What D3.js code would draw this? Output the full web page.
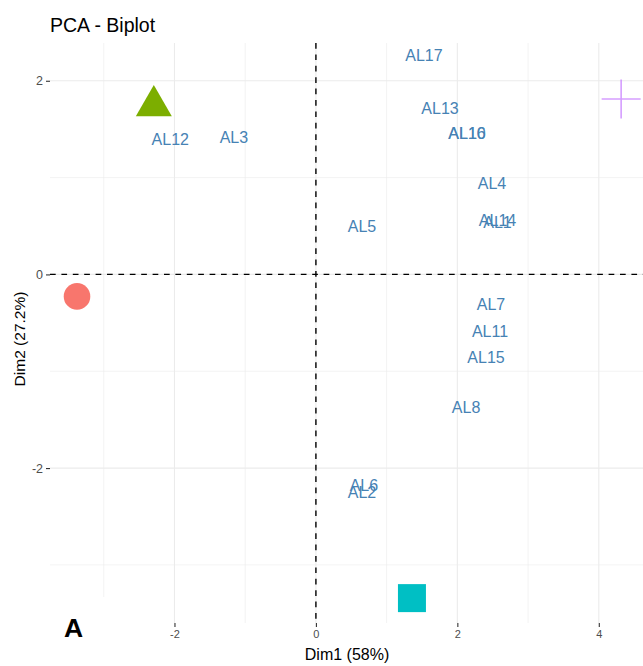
<!DOCTYPE html>
<html>
<head>
<meta charset="utf-8">
<script src="https://cdn.jsdelivr.net/npm/d3@7"></script>
<style>
  html, body { margin: 0; padding: 0; background: #fff; }
  svg { display: block; font-family: "Liberation Sans", Arial, sans-serif; }
</style>
</head>
<body>
<svg id="chart" width="643" height="666"></svg>
<script>
// Individuals (labels only)
const labelNames = ["AL17", "AL13", "AL16", "AL10", "AL4", "AL14", "AL1", "AL5",
                    "AL7", "AL11", "AL15", "AL8", "AL6", "AL2", "AL12", "AL3"];
const labelDim1 = [1.528, 1.755, 2.137, 2.137, 2.49, 2.568, 2.568, 0.651,
                   2.476, 2.462, 2.406, 2.123, 0.679, 0.651, -2.059, -1.160];
const labelDim2 = [2.267, 1.719, 1.461, 1.461, 0.944, 0.562, 0.535, 0.500,
                   -0.307, -0.586, -0.855, -1.371, -2.174, -2.246, 1.394, 1.414];

// Group mean points
const groupShapes = ["circle", "triangle", "square", "cross"];
const groupColors = ["#F8766D", "#7CAE00", "#00BFC4", "#C77CFF"];
const groupDim1 = [-3.378, -2.292, 1.358, 4.316];
const groupDim2 = [-0.227, 1.742, -3.343, 1.812];

// Axis ticks and grid
const xTicks = [-2, 0, 2, 4];
const yTicks = [-2, 0, 2];
const xMinor = [-3, -1, 1, 3];
const yMinor = [-3, -1, 1];

const xDomain = [-3.76, 4.71];
const yDomain = [-3.60, 2.39];

const panel = { left: 50, right: 649, top: 43, bottom: 623 };

const svg = d3.select("#chart");
const x = d3.scaleLinear().domain(xDomain).range([panel.left, panel.right]);
const y = d3.scaleLinear().domain(yDomain).range([panel.bottom, panel.top]);

const gridColor = "#EBEBEB";
const grid = svg.append("g");

// minor grid
grid.selectAll("line.vmin").data(xMinor).join("line")
  .attr("x1", d => x(d)).attr("x2", d => x(d))
  .attr("y1", panel.top).attr("y2", panel.bottom)
  .attr("stroke", gridColor).attr("stroke-width", 0.6);
grid.selectAll("line.hmin").data(yMinor).join("line")
  .attr("x1", panel.left).attr("x2", panel.right)
  .attr("y1", d => y(d)).attr("y2", d => y(d))
  .attr("stroke", gridColor).attr("stroke-width", 0.6);
// major grid
grid.selectAll("line.vmaj").data(xTicks).join("line")
  .attr("x1", d => x(d)).attr("x2", d => x(d))
  .attr("y1", panel.top).attr("y2", panel.bottom)
  .attr("stroke", gridColor).attr("stroke-width", 1.1);
grid.selectAll("line.hmaj").data(yTicks).join("line")
  .attr("x1", panel.left).attr("x2", panel.right)
  .attr("y1", d => y(d)).attr("y2", d => y(d))
  .attr("stroke", gridColor).attr("stroke-width", 1.1);

// Axes (ticks + labels, no domain line)
const xAxis = d3.axisBottom(x).tickValues(xTicks).tickSize(4).tickPadding(3)
  .tickFormat(d3.format("d"));
const gx = svg.append("g").attr("transform", `translate(0,${panel.bottom})`).call(xAxis);
gx.select(".domain").remove();
gx.selectAll(".tick line").attr("stroke", "#333333").attr("stroke-width", 1.1);
gx.selectAll(".tick text").attr("fill", "#4D4D4D").attr("font-size", 11)
  .attr("font-family", "Liberation Sans, Arial, sans-serif")
  .text(d => d < 0 ? "-" + Math.abs(d) : String(d));

const yAxis = d3.axisLeft(y).tickValues(yTicks).tickSize(4).tickPadding(3)
  .tickFormat(d3.format("d"));
const gy = svg.append("g").attr("transform", `translate(${panel.left},0)`).call(yAxis);
gy.select(".domain").remove();
gy.selectAll(".tick line").attr("stroke", "#333333").attr("stroke-width", 1.1);
gy.selectAll(".tick text").attr("fill", "#4D4D4D").attr("font-size", 12.5)
  .attr("font-family", "Liberation Sans, Arial, sans-serif")
  .text(d => d < 0 ? "-" + Math.abs(d) : String(d));

// Reference lines at zero
svg.append("line")
  .attr("x1", panel.left).attr("x2", panel.right)
  .attr("y1", y(0)).attr("y2", y(0))
  .attr("stroke", "#000").attr("stroke-width", 1.4)
  .attr("stroke-dasharray", "5.7,5.7");
svg.append("line")
  .attr("x1", x(0)).attr("x2", x(0))
  .attr("y1", panel.top).attr("y2", panel.bottom)
  .attr("stroke", "#000").attr("stroke-width", 1.4)
  .attr("stroke-dasharray", "5.7,5.7");

// Individual labels
svg.append("g").selectAll("text").data(labelNames).join("text")
  .attr("x", (d, i) => x(labelDim1[i]))
  .attr("y", (d, i) => y(labelDim2[i]))
  .attr("dy", "0.36em")
  .attr("text-anchor", "middle")
  .attr("font-size", 16)
  .attr("fill", "#4682B4")
  .text(d => d);

// Group mean points
const gPts = svg.append("g");
groupShapes.forEach((shape, i) => {
  const cx = x(groupDim1[i]), cy = y(groupDim2[i]);
  const col = groupColors[i];
  if (shape === "circle") {
    gPts.append("circle").attr("cx", cx).attr("cy", cy).attr("r", 13.3).attr("fill", col);
  } else if (shape === "triangle") {
    gPts.append("path")
      .attr("d", d3.symbol(d3.symbolTriangle, 561)())
      .attr("transform", `translate(${cx},${cy})`).attr("fill", col);
  } else if (shape === "square") {
    gPts.append("path")
      .attr("d", d3.symbol(d3.symbolSquare, 28 * 28)())
      .attr("transform", `translate(${cx},${cy})`).attr("fill", col);
  } else if (shape === "cross") {
    const arm = 19.5;
    gPts.append("path")
      .attr("d", `M${cx - arm},${cy}H${cx + arm}M${cx},${cy - arm}V${cy + arm}`)
      .attr("stroke", col).attr("stroke-width", 1.6).attr("stroke-opacity", 0.75)
      .attr("fill", "none");
  }
});

// Title and axis titles
svg.append("text").attr("x", 50).attr("y", 31.5)
  .attr("font-size", 19.5).attr("fill", "#000").text("PCA - Biplot");
svg.append("text").attr("x", 347).attr("y", 660)
  .attr("text-anchor", "middle").attr("font-size", 16).attr("fill", "#000")
  .text("Dim1 (58%)");
svg.append("text")
  .attr("transform", `translate(25,339) rotate(-90)`)
  .attr("text-anchor", "middle").attr("font-size", 15.5).attr("fill", "#000")
  .text("Dim2 (27.2%)");

// Panel tag
svg.append("rect").attr("x", 0).attr("y", 597).attr("width", 120).attr("height", 69)
  .attr("fill", "#fff");
svg.append("text").attr("x", 64).attr("y", 637)
  .attr("font-size", 26.5).attr("font-weight", "bold").attr("fill", "#000")
  .text("A");
</script>
</body>
</html>
